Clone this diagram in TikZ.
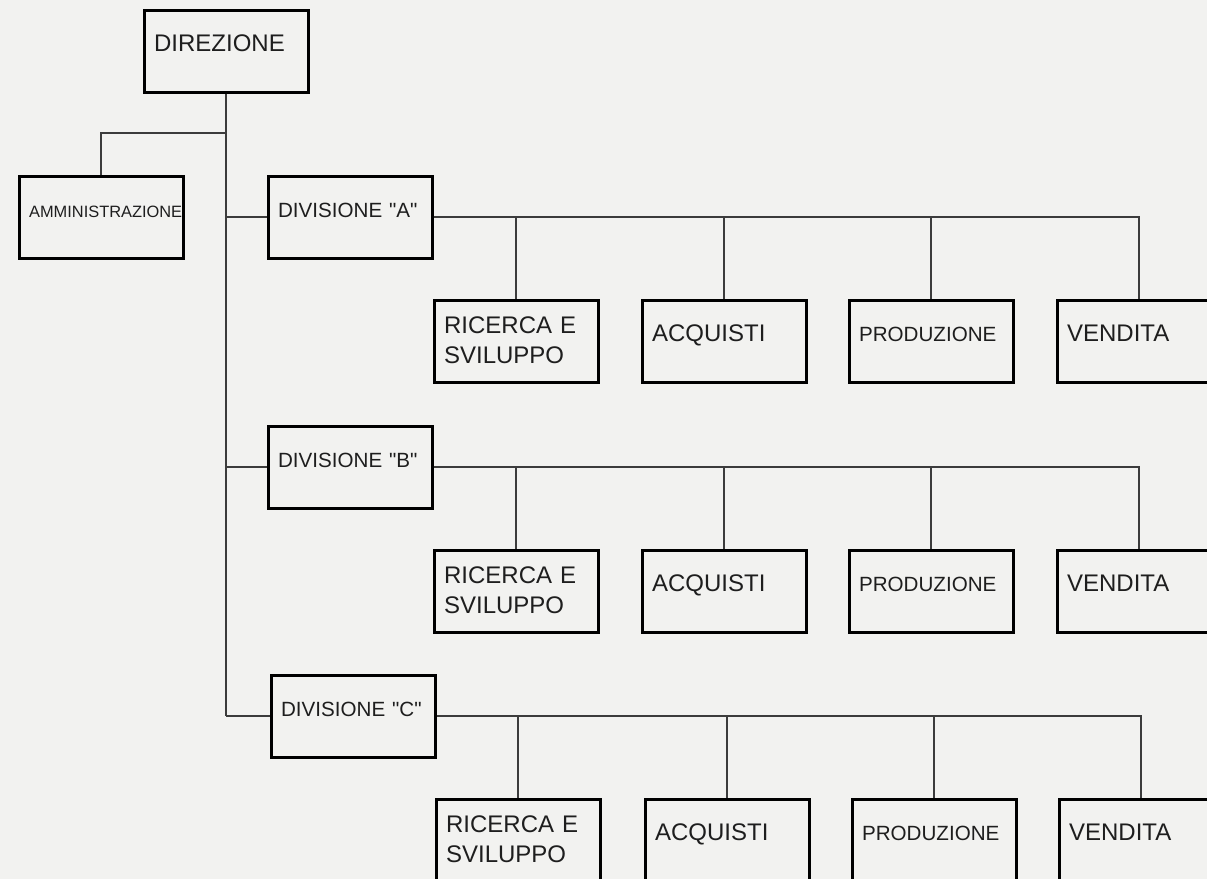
\documentclass[tikz,border=0pt]{standalone}
\usepackage{fontspec}
\setmainfont{Liberation Sans}[Ligatures=TeXOff]
\definecolor{sfondo}{RGB}{242,242,240}
\definecolor{linea}{RGB}{60,60,60}
\definecolor{testo}{RGB}{30,30,30}

\begin{document}
\begin{tikzpicture}
[
    x = 0.5pt, y = -0.5pt,
    box/.style={draw=black, line width = 1.6pt, anchor = north west, text = testo,
        align = left, text width = 72pt, inner xsep = 5pt, inner ysep = 0pt,
        text height = 20.75pt, text depth = 20.25pt},
    big/.style={font = \fontsize{12}{15}\selectfont},
    mid/.style={font = \fontsize{10.3}{13}\selectfont},
    small/.style={font = \fontsize{8.2}{10}\selectfont},
    two/.style={text height = 16.75pt, text depth = 24.25pt}, % two lines of text
    conn/.style={draw = linea, line width = 1pt},
]

\fill[sfondo] (0,0) rectangle (1207,879);
\useasboundingbox (0,0) rectangle (1207,879);

% Top of the chart
\node[box, big] (dir) at (142.5,8.5) {DIREZIONE};
\node[box, small] (amm) at (17.5,174.5) {AMMINISTRAZIONE};

% Division A
\node[box, mid] (divA) at (266.5,174.5) {DIVISIONE "A"};
\node[box, big, two] (ricA) at (432.5,298.5) {RICERCA E\\SVILUPPO};
\node[box, big] (acqA) at (640.5,298.5) {ACQUISTI};
\node[box, mid] (proA) at (847.5,298.5) {PRODUZIONE};
\node[box, big] (venA) at (1055.5,298.5) {VENDITA};

% Division B
\node[box, mid] (divB) at (266.5,424.5) {DIVISIONE "B"};
\node[box, big, two] (ricB) at (432.5,548.5) {RICERCA E\\SVILUPPO};
\node[box, big] (acqB) at (640.5,548.5) {ACQUISTI};
\node[box, mid] (proB) at (847.5,548.5) {PRODUZIONE};
\node[box, big] (venB) at (1055.5,548.5) {VENDITA};

% Division C
\node[box, mid] (divC) at (269.5,673.5) {DIVISIONE "C"};
\node[box, big, two] (ricC) at (434.5,797.5) {RICERCA E\\SVILUPPO};
\node[box, big] (acqC) at (643.5,797.5) {ACQUISTI};
\node[box, mid] (proC) at (850.5,797.5) {PRODUZIONE};
\node[box, big] (venC) at (1057.5,797.5) {VENDITA};

% Trunk and branches
\coordinate (split) at (0,132.5);
\draw[conn] (dir.south) -- (dir.south |- divC.west);
\draw[conn] (dir.south |- split) -| (amm.north);
\draw[conn] (dir.south |- divA.west) -- (divA.west);
\draw[conn] (dir.south |- divB.west) -- (divB.west);
\draw[conn] (dir.south |- divC.west) -- (divC.west);

\draw[conn] (divA.east) -| (venA.north);
\draw[conn] (ricA.north) -- (ricA.north |- divA.east);
\draw[conn] (acqA.north) -- (acqA.north |- divA.east);
\draw[conn] (proA.north) -- (proA.north |- divA.east);

\draw[conn] (divB.east) -| (venB.north);
\draw[conn] (ricB.north) -- (ricB.north |- divB.east);
\draw[conn] (acqB.north) -- (acqB.north |- divB.east);
\draw[conn] (proB.north) -- (proB.north |- divB.east);

\draw[conn] (divC.east) -| (venC.north);
\draw[conn] (ricC.north) -- (ricC.north |- divC.east);
\draw[conn] (acqC.north) -- (acqC.north |- divC.east);
\draw[conn] (proC.north) -- (proC.north |- divC.east);
\end{tikzpicture}
\end{document}
